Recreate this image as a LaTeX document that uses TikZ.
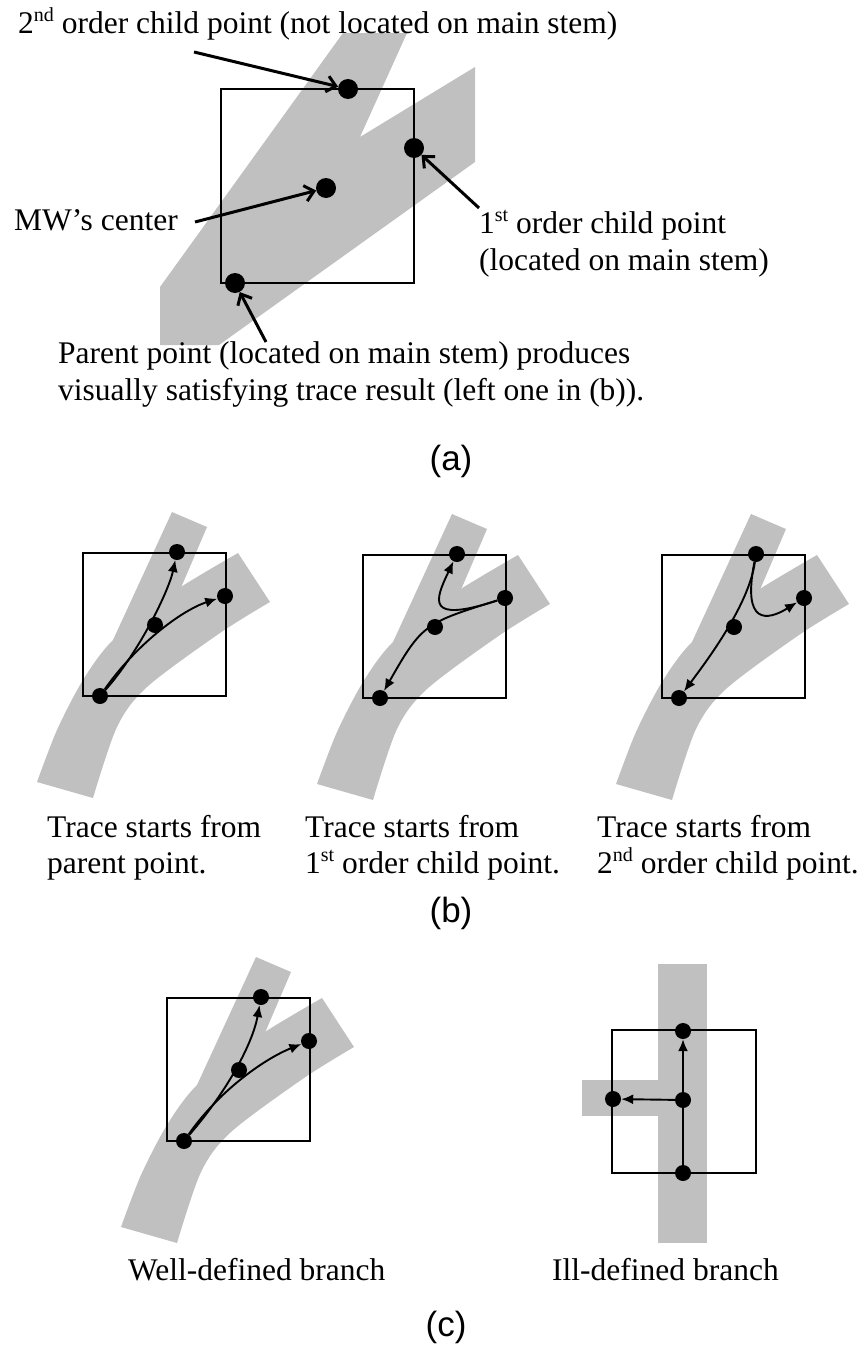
\documentclass[tikz,border=0pt]{standalone}
\usepackage{fontspec}
\setmainfont{Liberation Serif}
\newfontfamily\labelfont{Liberation Sans}
\usetikzlibrary{arrows.meta}
\definecolor{stemgray}{RGB}{192,192,192}
\newcommand\sups[1]{\raisebox{0.36em}{\fontsize{20}{20}\selectfont #1}}
\newcommand\stemshape{%
  \fill[stemgray] plot[smooth] coordinates {(-46,229) (-26,177) (0,127) (30,87) (87,41) (155,0)}
    -- (187,49) -- plot[smooth] coordinates {(187,49) (137,80) (64,134) (34,174) (10,245)} -- cycle;
  \fill[stemgray] (30,87) -- (89,-41) -- (124,-26) -- (97,37) -- (117,72) -- (47,127) -- cycle;
  \draw[win] (0,0) rectangle (143,143);}
\begin{document}
\begin{tikzpicture}[x=1pt,y=-1pt,
  txt/.style={font=\fontsize{31.5}{36}\selectfont, inner sep=0, anchor=base west},
  lbl/.style={font=\labelfont\fontsize{35}{40}\selectfont, inner sep=0, anchor=base},
  win/.style={draw=black, line width=2.2},
  bigdot/.style={circle, fill=black, inner sep=0, minimum size=20},
  dot/.style={circle, fill=black, inner sep=0, minimum size=16},
  callout/.style={line width=3, -{Straight Barb[length=9,width=16]}},
  arr/.style={line width=1.9, -{Latex[length=12,width=10]}},
  plain/.style={line width=1.9}]
\useasboundingbox (0,0) rectangle (863,1349);

% ---------------- (a) ----------------
\fill[stemgray] (160,345) -- (160,287) -- (343,33) -- (407,33) -- (360,137) -- (475,67) -- (475,162) -- (219,345) -- cycle;
\draw[win] (221,89) rectangle (414,283);
\node[bigdot] (a2) at (348,89) {};
\node[bigdot] (a1) at (414,148) {};
\node[bigdot] (ac) at (326,188) {};
\node[bigdot] (ap) at (235,283) {};
\coordinate (s2) at (194,52);
\coordinate (sc) at (195,222);
\coordinate (s1) at (479,208);
\coordinate (sp) at (266,342);
\draw[callout] (s2) -- (a2);
\draw[callout] (sc) -- (ac);
\draw[callout] (s1) -- (a1);
\draw[callout] (sp) -- (ap);
\node[txt] (ta2) at (18,33) {2\sups{nd} order child point (not located on main stem)};
\node[txt] (tac) at (14,230) {MW’s center};
\node[txt] (ta1a) at (479,233) {1\sups{st} order child point};
\node[txt] (ta1b) at (479,270) {(located on main stem)};
\node[txt] (tapa) at (58,363) {Parent point (located on main stem) produces};
\node[txt] (tapb) at (58,400) {visually satisfying trace result (left one in (b)).};
\node[lbl] (la) at (451,470) {(a)};

% ---------------- (b) panel 1 ----------------
\begin{scope}[shift={(83,553)}]
  \stemshape
  \node[dot] (p1t) at (94,-1) {};
  \node[dot] (p1r) at (142,43) {};
  \node[dot] (p1m) at (72,72) {};
  \node[dot] (p1b) at (17,143) {};
  \draw[arr] (p1b) .. controls +(40,-45) and +(-8,38) .. (p1t);
  \draw[arr] (p1b) .. controls +(35,-50) and +(-45,15) .. (p1r);
\end{scope}
% ---------------- (b) panel 2 ----------------
\begin{scope}[shift={(363,555)}]
  \stemshape
  \node[dot] (p2t) at (94,-1) {};
  \node[dot] (p2r) at (142,43) {};
  \node[dot] (p2m) at (72,72) {};
  \node[dot] (p2b) at (17,143) {};
  \draw[arr] (p2r) .. controls +(-80,26) and +(-22,46) .. (p2t);
  \draw[arr] (p2r) .. controls +(-80,25) and +(42,-74) .. (p2b);
\end{scope}
% ---------------- (b) panel 3 ----------------
\begin{scope}[shift={(662,555)}]
  \stemshape
  \node[dot] (p3t) at (94,-1) {};
  \node[dot] (p3r) at (142,43) {};
  \node[dot] (p3m) at (72,72) {};
  \node[dot] (p3b) at (17,143) {};
  \draw[arr] (p3t) .. controls +(-7,50) and +(30,-40) .. (p3b);
  \draw[arr] (p3t) .. controls +(-14,71) and +(-37,23) .. (p3r);
\end{scope}
\node[txt] (tb1a) at (47,837) {Trace starts from};
\node[txt] (tb1b) at (47,873) {parent point.};
\node[txt] (tb2a) at (305,837) {Trace starts from};
\node[txt] (tb2b) at (305,873) {1\sups{st} order child point.};
\node[txt] (tb3a) at (597,837) {Trace starts from};
\node[txt] (tb3b) at (597,873) {2\sups{nd} order child point.};
\node[lbl] (lb) at (451,922) {(b)};

% ---------------- (c) left ----------------
\begin{scope}[shift={(167,998)}]
  \stemshape
  \node[dot] (ct) at (94,-1) {};
  \node[dot] (cr) at (142,43) {};
  \node[dot] (cm) at (72,72) {};
  \node[dot] (cb) at (17,143) {};
  \draw[arr] (cb) .. controls +(45,-52) and +(-8,45) .. (ct);
  \draw[arr] (cb) .. controls +(35,-50) and +(-45,18) .. (cr);
\end{scope}
% ---------------- (c) right ----------------
\fill[stemgray] (658,964) rectangle (707,1243);
\fill[stemgray] (582,1080) rectangle (658,1116);
\draw[win] (612,1030) rectangle (756,1173);
\node[dot] (it) at (683,1031) {};
\node[dot] (il) at (613,1099) {};
\node[dot] (im) at (683,1100) {};
\node[dot] (ib) at (683,1173) {};
\draw[plain] (ib) -- (im);
\draw[arr] (im) -- (it);
\draw[arr] (im) -- (il);
\node[txt] (tc1) at (128,1280) {Well-defined branch};
\node[txt] (tc2) at (552,1280) {Ill-defined branch};
\node[lbl] (lc) at (446,1336) {(c)};
\end{tikzpicture}
\end{document}
